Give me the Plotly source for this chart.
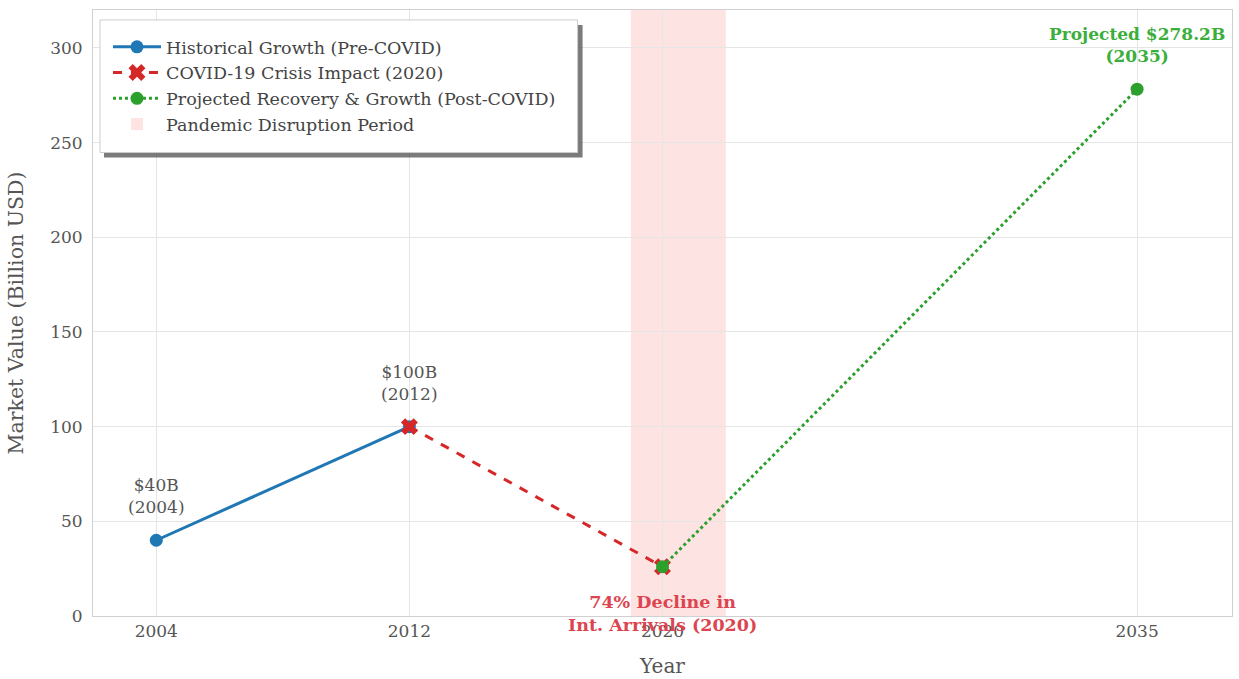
import plotly.graph_objects as go

# Market value of the sector (billion USD) by year
hist_years = [2004, 2012]
hist_values = [40, 100]
covid_years = [2012, 2020]
covid_values = [100, 26]
proj_years = [2020, 2035]
proj_values = [26, 278.2]
tick_years = [2004, 2012, 2020, 2035]
disruption_start, disruption_end = 2019, 2022

FONT = "DejaVu Serif"
GRAY = "#555555"
BLUE = "#1f77b4"
RED = "#d62728"
GREEN = "#2ca02c"

fig = go.Figure()

fig.add_trace(go.Scatter(
    x=hist_years, y=hist_values, mode="lines+markers",
    name="Historical Growth (Pre-COVID)",
    line=dict(color=BLUE, width=3),
    marker=dict(color=BLUE, size=13, symbol="circle"),
    legendrank=1,
))
fig.add_trace(go.Scatter(
    x=covid_years, y=covid_values, mode="lines+markers",
    name="COVID-19 Crisis Impact (2020)",
    line=dict(color=RED, width=3, dash="dash"),
    marker=dict(color=RED, size=15, symbol="x"),
    legendrank=2,
))
fig.add_trace(go.Scatter(
    x=proj_years, y=proj_values, mode="lines+markers",
    name="Projected Recovery & Growth (Post-COVID)",
    line=dict(color=GREEN, width=3, dash="dot"),
    marker=dict(color=GREEN, size=13, symbol="circle"),
    legendrank=3,
))

fig.add_vrect(
    x0=disruption_start, x1=disruption_end,
    fillcolor="rgba(244, 67, 54, 0.15)", line_width=0, layer="below",
    showlegend=True, name="Pandemic Disruption Period", legendrank=4,
)

# Value labels
for yr, val, txt in [
    (hist_years[0], hist_values[0], "$40B<br>(2004)"),
    (hist_years[1], hist_values[1], "$100B<br>(2012)"),
]:
    fig.add_annotation(x=yr, y=val, text=txt, showarrow=False,
                       yanchor="bottom", yshift=21,
                       font=dict(family=FONT, size=17, color=GRAY))

fig.add_annotation(x=proj_years[1], y=proj_values[1],
                   text="<b>Projected $278.2B<br>(2035)</b>", showarrow=False,
                   yanchor="bottom", yshift=21,
                   font=dict(family=FONT, size=17, color="#3cae3c"))

fig.add_annotation(x=covid_years[1], y=covid_values[1],
                   text="<b>74% Decline in<br>Int. Arrivals (2020)</b>", showarrow=False,
                   yanchor="top", yshift=-23,
                   font=dict(family=FONT, size=17.5, color="#dc4550"))

# Legend frame with a drop shadow (plot area: x 93..1233 px, y 10..618 px)
def px_x(p):
    return (p - 93) / 1140

def px_y(p):
    return (618 - p) / 608

fig.add_shape(type="rect", xref="paper", yref="paper",
              x0=px_x(104), x1=px_x(583), y0=px_y(158), y1=px_y(25),
              fillcolor="rgba(90,90,90,0.8)", line_width=0, layer="above")
fig.add_shape(type="rect", xref="paper", yref="paper",
              x0=px_x(100), x1=px_x(578), y0=px_y(153), y1=px_y(20),
              fillcolor="white", line=dict(color="#cccccc", width=1), layer="above")

fig.update_layout(
    width=1239, height=679,
    margin=dict(l=93, r=6, t=10, b=61),
    paper_bgcolor="white", plot_bgcolor="white",
    font=dict(family=FONT, color=GRAY, size=17),
    legend=dict(
        x=px_x(108), y=px_y(29), xanchor="left", yanchor="top",
        bgcolor="rgba(0,0,0,0)", borderwidth=0,
        font=dict(family=FONT, size=17.5, color="#444444"),
        itemwidth=48, tracegroupgap=0,
    ),
    xaxis=dict(
        range=[2002, 2038], tickvals=tick_years,
        ticktext=[str(y) for y in tick_years],
        showgrid=True, gridcolor="#e5e5e5", gridwidth=1,
        zeroline=False, showline=True, linecolor="#d0d0d0", mirror=True,
        ticks="", tickfont=dict(size=17, color=GRAY),
        title=dict(text="Year", font=dict(size=20, color=GRAY), standoff=18),
    ),
    yaxis=dict(
        range=[0, 320], tickvals=[0, 50, 100, 150, 200, 250, 300],
        showgrid=True, gridcolor="#e5e5e5", gridwidth=1,
        zeroline=False, showline=True, linecolor="#d0d0d0", mirror=True,
        ticks="", ticklabelstandoff=6, tickfont=dict(size=17, color=GRAY),
        title=dict(text="Market Value (Billion USD)", font=dict(size=20.5, color=GRAY), standoff=20),
    ),
)

fig.write_html("out.html")
